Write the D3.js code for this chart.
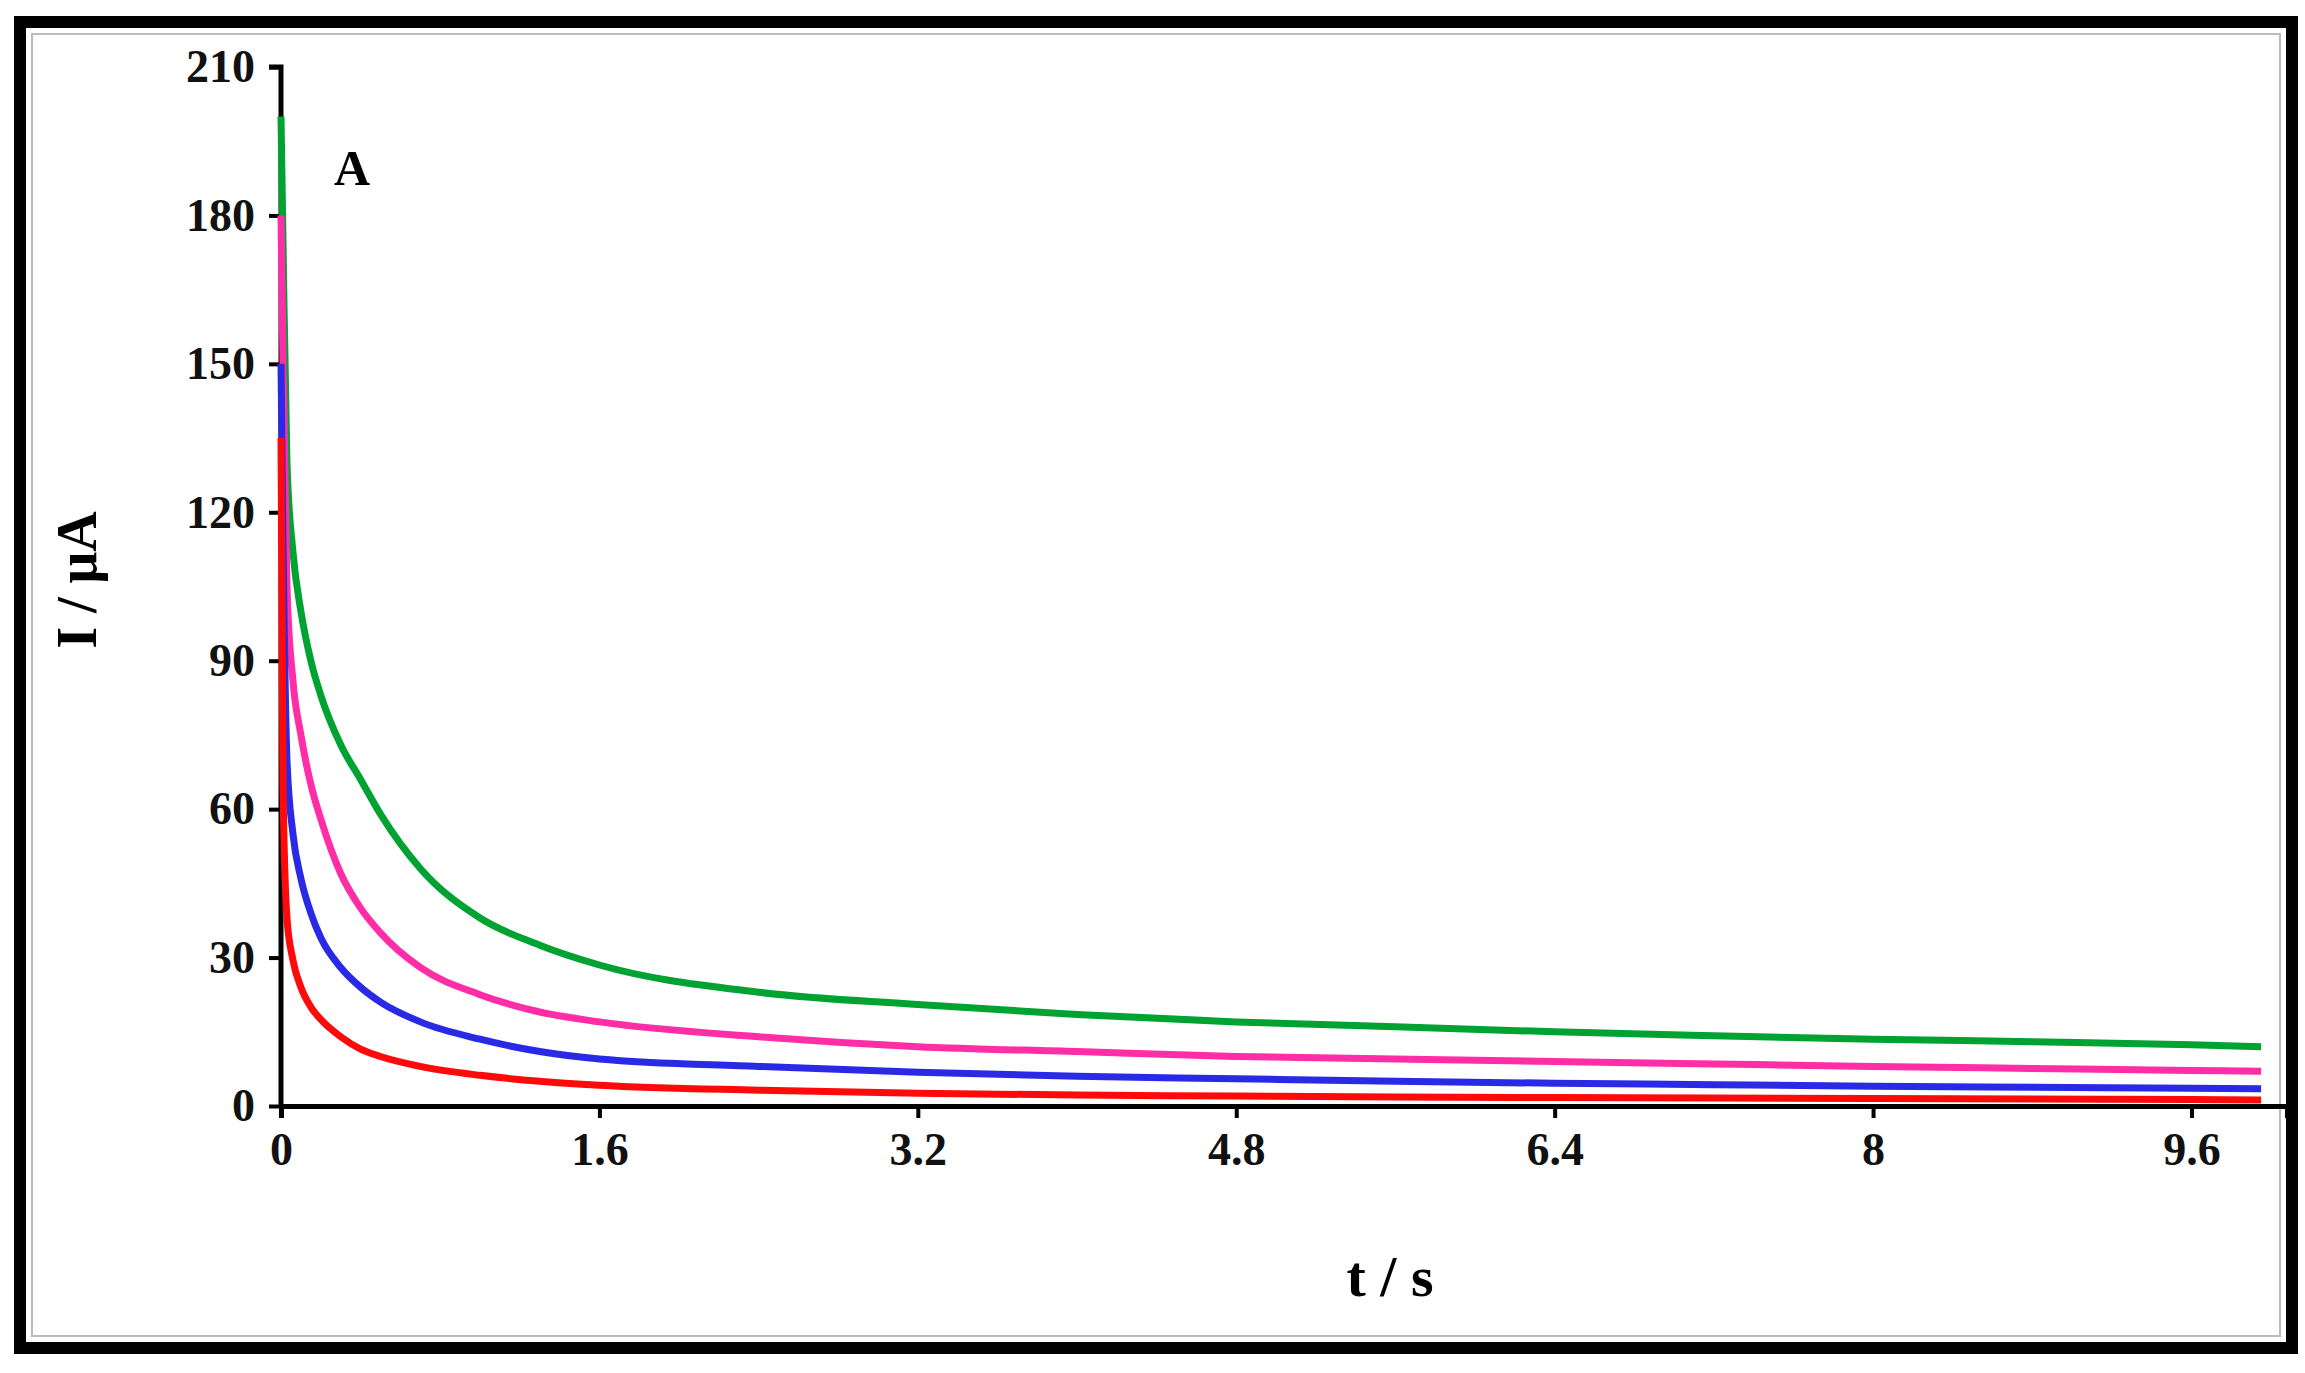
<!DOCTYPE html>
<html><head><meta charset="utf-8">
<script src="https://cdn.jsdelivr.net/npm/d3@7"></script>
<style>body{margin:0;background:#fff}</style></head>
<body><svg id="c" width="2305" height="1373"></svg>
<script>
const times = [0, 0.01, 0.03, 0.06, 0.1, 0.15, 0.2, 0.3, 0.4, 0.5, 0.7, 1.0, 1.3, 1.6, 2.4, 3.2, 4.0, 4.8, 5.6, 6.4, 7.2, 8.0, 8.8, 9.6, 9.95];
const green = [200, 175, 130, 112, 100, 90, 83, 73, 66, 59, 48, 38, 32.5, 28.5, 23, 20.5, 18.5, 17, 16, 15, 14.2, 13.5, 13, 12.4, 12];
const pink  = [180, 150, 105, 86, 75, 65, 58, 47, 40, 35, 28, 22.5, 19, 17, 14, 12, 11, 10, 9.5, 9, 8.5, 8, 7.6, 7.2, 7];
const blue  = [150, 115, 70, 55, 46, 39, 34, 28, 24, 21, 17, 13.5, 11, 9.5, 8, 6.8, 6, 5.5, 5, 4.6, 4.3, 4, 3.8, 3.6, 3.5];
const red   = [135, 65, 38, 29.5, 24, 20, 17.5, 14, 11.5, 10, 8, 6.2, 5, 4.2, 3.2, 2.6, 2.2, 2, 1.8, 1.7, 1.6, 1.5, 1.4, 1.3, 1.2];
const xTicks = [0, 1.6, 3.2, 4.8, 6.4, 8, 9.6];
const yTicks = [0, 30, 60, 90, 120, 150, 180, 210];
const seriesList = [
  {name:"green", values: green, color:"#00a232"},
  {name:"pink", values: pink, color:"#ff2ea6"},
  {name:"blue", values: blue, color:"#2a2ae6"},
  {name:"red", values: red, color:"#ff0a0a"}
];

const svg = d3.select("#c");
svg.append("rect").attr("x",20).attr("y",22).attr("width",2272).attr("height",1326)
  .attr("fill","none").attr("stroke","#000").attr("stroke-width",12);
svg.append("rect").attr("x",32).attr("y",34).attr("width",2248).attr("height",1302)
  .attr("fill","none").attr("stroke","#bbb").attr("stroke-width",2);

const x0 = 281, y0 = 1106;
const x = d3.scaleLinear().domain([0, 10.08]).range([x0, 2287]);
const y = d3.scaleLinear().domain([0, 210]).range([y0, 67]);

const font = "'Liberation Serif','Times New Roman',serif";
const xAxis = svg.append("g").attr("transform",`translate(0,${y0})`)
  .call(d3.axisBottom(x).tickValues(xTicks).tickSize(12).tickPadding(14).tickFormat(d=>String(d)));
const yAxis = svg.append("g").attr("transform",`translate(${x0},0)`)
  .call(d3.axisLeft(y).tickValues(yTicks).tickSize(12).tickPadding(14).tickFormat(d=>String(d)));
[xAxis,yAxis].forEach(g=>{
  g.select(".domain").attr("stroke","#000").attr("stroke-width",5);
  g.selectAll(".tick line").attr("stroke","#000").attr("stroke-width",4);
  g.selectAll("text").attr("font-family",font).attr("font-weight","bold").attr("font-size",46).attr("fill","#111");
});
yAxis.select(".domain").attr("d",`M-12,${y(210)}H0V${y0}`);

const line = d3.line().x((d,i)=>x(times[i])).y(d=>y(d)).curve(d3.curveMonotoneX);
seriesList.forEach(s=>{
  svg.append("path").datum(s.values).attr("d",line).attr("fill","none")
    .attr("stroke",s.color).attr("stroke-width",7).attr("stroke-linejoin","round");
});

svg.append("text").attr("x",352).attr("y",185).attr("text-anchor","middle")
  .attr("font-family",font).attr("font-weight","bold").attr("font-size",50).text("A");
svg.append("text").attr("x",1390).attr("y",1296).attr("text-anchor","middle")
  .attr("font-family",font).attr("font-weight","bold").attr("font-size",58).text("t / s");
svg.append("text").attr("transform","translate(96,580) rotate(-90)").attr("text-anchor","middle")
  .attr("font-family",font).attr("font-weight","bold").attr("font-size",56).text("I / μA");
</script></body></html>
